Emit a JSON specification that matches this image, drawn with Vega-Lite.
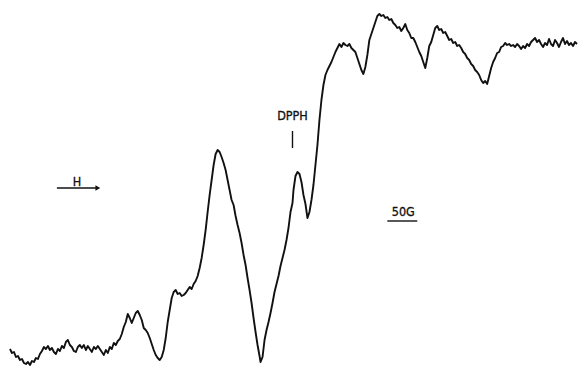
{
  "$schema": "https://vega.github.io/schema/vega-lite/v6.json",
  "width": 578,
  "height": 368,
  "autosize": {"type": "fit", "contains": "padding"},
  "padding": 0,
  "background": "white",
  "config": {"view": {"stroke": null}},
  "datasets": {
    "spectrum": [
      {"f":10,"s":349},{"f":12,"s":353},{"f":14,"s":352},{"f":16,"s":357},{"f":18,"s":356},{"f":20,"s":360},{"f":22,"s":359},{"f":24,"s":363},{"f":26,"s":364},{"f":28,"s":362},{"f":30,"s":365},{"f":32,"s":361},{"f":34,"s":362},{"f":36,"s":358},{"f":38,"s":359},{"f":40,"s":354},{"f":42,"s":351},{"f":44,"s":347},{"f":46,"s":349},{"f":48,"s":346},{"f":50,"s":350},{"f":52,"s":348},{"f":54,"s":352},{"f":56,"s":354},{"f":58,"s":349},{"f":60,"s":351},{"f":62,"s":346},{"f":64,"s":348},{"f":66,"s":342},{"f":68,"s":340},{"f":70,"s":345},{"f":72,"s":347},{"f":74,"s":351},{"f":76,"s":352},{"f":78,"s":347},{"f":80,"s":345},{"f":82,"s":348},{"f":84,"s":345},{"f":86,"s":350},{"f":88,"s":346},{"f":90,"s":349},{"f":92,"s":352},{"f":94,"s":347},{"f":96,"s":349},{"f":98,"s":346},{"f":100,"s":349},{"f":102,"s":352},{"f":104,"s":355},{"f":106,"s":350},{"f":108,"s":353},{"f":110,"s":347},{"f":112,"s":349},{"f":114,"s":343},{"f":116,"s":345},{"f":118,"s":341},{"f":120,"s":339},{"f":122,"s":334},{"f":124,"s":327},{"f":126,"s":322},{"f":128,"s":314},{"f":130,"s":318},{"f":132,"s":323},{"f":134,"s":318},{"f":136,"s":313},{"f":138,"s":311},{"f":140,"s":315},{"f":142,"s":320},{"f":144,"s":328},{"f":146,"s":330},{"f":148,"s":333},{"f":150,"s":338},{"f":152,"s":344},{"f":154,"s":350},{"f":156,"s":355},{"f":158,"s":358},{"f":160,"s":360},{"f":162,"s":357},{"f":164,"s":350},{"f":166,"s":338},{"f":168,"s":322},{"f":170,"s":310},{"f":172,"s":298},{"f":174,"s":292},{"f":176,"s":290},{"f":178,"s":294},{"f":180,"s":293},{"f":182,"s":296},{"f":184,"s":295},{"f":186,"s":293},{"f":188,"s":290},{"f":190,"s":287},{"f":192,"s":289},{"f":194,"s":284},{"f":196,"s":281},{"f":198,"s":276},{"f":200,"s":268},{"f":202,"s":258},{"f":204,"s":245},{"f":206,"s":230},{"f":208,"s":212},{"f":210,"s":195},{"f":212,"s":180},{"f":214,"s":165},{"f":216,"s":154},{"f":218,"s":150},{"f":220,"s":152},{"f":222,"s":157},{"f":224,"s":163},{"f":226,"s":170},{"f":228,"s":180},{"f":230,"s":190},{"f":232,"s":200},{"f":234,"s":205},{"f":236,"s":216},{"f":238,"s":225},{"f":240,"s":233},{"f":242,"s":243},{"f":244,"s":255},{"f":246,"s":265},{"f":248,"s":278},{"f":250,"s":290},{"f":252,"s":303},{"f":254,"s":318},{"f":256,"s":332},{"f":258,"s":345},{"f":260,"s":356},{"f":261,"s":362},{"f":263,"s":357},{"f":265,"s":340},{"f":267,"s":330},{"f":269,"s":322},{"f":271,"s":313},{"f":273,"s":303},{"f":275,"s":292},{"f":277,"s":284},{"f":279,"s":276},{"f":281,"s":266},{"f":283,"s":258},{"f":285,"s":250},{"f":287,"s":240},{"f":289,"s":228},{"f":291,"s":212},{"f":293,"s":203},{"f":294,"s":190},{"f":296,"s":176},{"f":298,"s":172},{"f":300,"s":174},{"f":302,"s":182},{"f":304,"s":195},{"f":306,"s":204},{"f":308,"s":218},{"f":310,"s":212},{"f":312,"s":200},{"f":314,"s":185},{"f":316,"s":165},{"f":318,"s":145},{"f":320,"s":120},{"f":322,"s":100},{"f":324,"s":85},{"f":326,"s":75},{"f":328,"s":70},{"f":330,"s":66},{"f":332,"s":62},{"f":334,"s":57},{"f":336,"s":52},{"f":338,"s":48},{"f":340,"s":44},{"f":342,"s":47},{"f":344,"s":43},{"f":346,"s":45},{"f":348,"s":46},{"f":350,"s":44},{"f":352,"s":48},{"f":354,"s":50},{"f":356,"s":52},{"f":358,"s":58},{"f":360,"s":64},{"f":362,"s":70},{"f":364,"s":74},{"f":366,"s":67},{"f":368,"s":55},{"f":370,"s":40},{"f":372,"s":34},{"f":374,"s":28},{"f":376,"s":22},{"f":378,"s":16},{"f":380,"s":14},{"f":382,"s":16},{"f":384,"s":15},{"f":386,"s":18},{"f":388,"s":17},{"f":390,"s":20},{"f":392,"s":19},{"f":394,"s":23},{"f":396,"s":25},{"f":398,"s":28},{"f":400,"s":27},{"f":402,"s":31},{"f":404,"s":28},{"f":406,"s":24},{"f":408,"s":30},{"f":410,"s":33},{"f":412,"s":38},{"f":414,"s":38},{"f":416,"s":42},{"f":418,"s":47},{"f":420,"s":52},{"f":422,"s":56},{"f":424,"s":62},{"f":426,"s":68},{"f":428,"s":58},{"f":430,"s":46},{"f":432,"s":42},{"f":434,"s":35},{"f":436,"s":28},{"f":438,"s":26},{"f":440,"s":30},{"f":442,"s":29},{"f":444,"s":33},{"f":446,"s":32},{"f":448,"s":36},{"f":450,"s":40},{"f":452,"s":39},{"f":454,"s":43},{"f":456,"s":42},{"f":458,"s":46},{"f":460,"s":45},{"f":462,"s":48},{"f":464,"s":52},{"f":466,"s":54},{"f":468,"s":58},{"f":470,"s":60},{"f":472,"s":64},{"f":474,"s":66},{"f":476,"s":70},{"f":478,"s":72},{"f":480,"s":75},{"f":482,"s":80},{"f":484,"s":83},{"f":486,"s":81},{"f":488,"s":84},{"f":490,"s":76},{"f":492,"s":68},{"f":494,"s":62},{"f":496,"s":58},{"f":498,"s":53},{"f":500,"s":52},{"f":502,"s":47},{"f":504,"s":46},{"f":506,"s":43},{"f":508,"s":45},{"f":510,"s":44},{"f":512,"s":46},{"f":514,"s":45},{"f":516,"s":47},{"f":518,"s":44},{"f":520,"s":46},{"f":522,"s":49},{"f":524,"s":46},{"f":526,"s":48},{"f":528,"s":44},{"f":530,"s":46},{"f":532,"s":42},{"f":534,"s":40},{"f":536,"s":38},{"f":538,"s":42},{"f":540,"s":40},{"f":542,"s":44},{"f":544,"s":47},{"f":546,"s":43},{"f":548,"s":45},{"f":550,"s":39},{"f":552,"s":44},{"f":554,"s":46},{"f":556,"s":40},{"f":558,"s":43},{"f":560,"s":47},{"f":562,"s":42},{"f":564,"s":38},{"f":566,"s":44},{"f":568,"s":41},{"f":570,"s":45},{"f":572,"s":43},{"f":574,"s":46},{"f":576,"s":42},{"f":578,"s":44}
    ],
    "labels": [
      {"f": 293, "s": 116, "t": "DPPH"},
      {"f": 77, "s": 182, "t": "H"},
      {"f": 404, "s": 212, "t": "50G"}
    ],
    "rules": [
      {"f": 293, "f2": 293, "s": 131, "s2": 148},
      {"f": 57, "f2": 97, "s": 188, "s2": 188},
      {"f": 388, "f2": 418, "s": 221, "s2": 221}
    ],
    "heads": [
      {"f": 98, "s": 188}
    ]
  },
  "encoding": {
    "x": {"field": "f", "type": "quantitative", "scale": {"domain": [0, 578], "nice": false, "zero": false}, "axis": null},
    "y": {"field": "s", "type": "quantitative", "scale": {"domain": [0, 368], "nice": false, "zero": false, "reverse": true}, "axis": null}
  },
  "layer": [
    {
      "data": {"name": "spectrum"},
      "mark": {"type": "line", "color": "#111", "strokeWidth": 1.9, "strokeJoin": "round"}
    },
    {
      "data": {"name": "rules"},
      "mark": {"type": "rule", "color": "#111", "strokeWidth": 1.4},
      "encoding": {"x2": {"field": "f2"}, "y2": {"field": "s2"}}
    },
    {
      "data": {"name": "heads"},
      "mark": {"type": "point", "shape": "triangle-right", "filled": true, "color": "#111", "size": 30, "opacity": 1}
    },
    {
      "data": {"name": "labels"},
      "mark": {"type": "text", "color": "#111", "fontSize": 12.5, "font": "DejaVu Sans Condensed", "stroke": "#111", "strokeWidth": 0.3, "baseline": "middle", "align": "center"},
      "encoding": {"text": {"field": "t"}}
    }
  ]
}
